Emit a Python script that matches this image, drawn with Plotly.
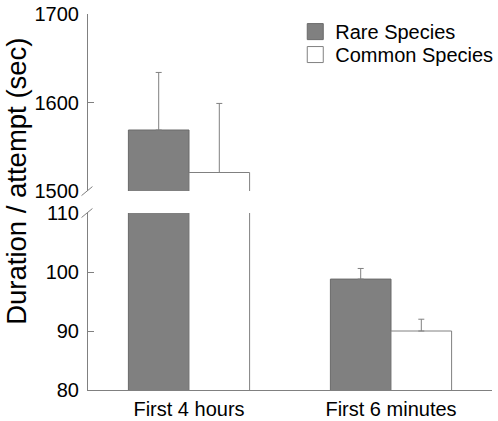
import plotly.graph_objects as go

categories = ["First 4 hours", "First 6 minutes"]
series_names = ["Rare Species", "Common Species"]
rare_values = [1569, 98.8]
rare_err = [65, 1.8]
common_values = [1521, 90.0]
common_err = [78, 2.0]
upper_ticks = [1500, 1600, 1700]
lower_ticks = [80, 90, 100, 110]

FONT = "Liberation Sans, Arial, Helvetica, sans-serif"
GRAY = "#808080"
RARE_FILL = "#808080"
RARE_EDGE = "#6a6a6a"
COMMON_FILL = "#ffffff"

fig = go.Figure()

for yax in ("y", "y2"):
    fig.add_trace(go.Bar(
        x=categories, y=rare_values, name=series_names[0],
        marker=dict(color=RARE_FILL, line=dict(color=RARE_EDGE, width=1)),
        error_y=dict(type="data", symmetric=False, array=rare_err,
                     arrayminus=[0, 0], color=GRAY, thickness=1, width=3),
        offset=-0.3, width=0.3, yaxis=yax, xaxis="x", showlegend=False,
    ))
    fig.add_trace(go.Bar(
        x=categories, y=common_values, name=series_names[1],
        marker=dict(color=COMMON_FILL, line=dict(color=GRAY, width=1)),
        error_y=dict(type="data", symmetric=False, array=common_err,
                     arrayminus=[0, 0], color=GRAY, thickness=1, width=3),
        offset=0.0, width=0.3, yaxis=yax, xaxis="x", showlegend=False,
    ))

# legend entries (square swatches)
fig.add_trace(go.Scatter(
    x=[None], y=[None], mode="markers", name=series_names[0],
    marker=dict(symbol="square", size=16, color=RARE_FILL,
                line=dict(color=RARE_EDGE, width=1)),
    legend="legend", showlegend=True,
))
fig.add_trace(go.Scatter(
    x=[None], y=[None], mode="markers", name=series_names[1],
    marker=dict(symbol="square", size=16, color=COMMON_FILL,
                line=dict(color=GRAY, width=1)),
    legend="legend2", showlegend=True,
))

lower_top = 0.4707
upper_bot = 0.529

axis_common = dict(
    showline=True, linecolor=GRAY, linewidth=1,
    ticks="inside", ticklen=6, tickcolor=GRAY,
    showgrid=False, zeroline=False, anchor="x",
    tickfont=dict(size=20), ticklabelstandoff=4,
)

legend_common = dict(
    xanchor="left", yanchor="top", bgcolor="rgba(0,0,0,0)",
    font=dict(size=20), itemsizing="trace", borderwidth=0,
)

fig.update_layout(
    width=498, height=421,
    margin=dict(l=88, r=6, t=14, b=31, autoexpand=False),
    paper_bgcolor="white", plot_bgcolor="white",
    font=dict(family=FONT, size=20, color="black"),
    barmode="overlay",
    xaxis=dict(
        range=[-0.5, 1.5], showline=True, linecolor=GRAY, linewidth=1,
        ticks="", showgrid=False, zeroline=False,
        tickfont=dict(size=20), anchor="y", ticklabelstandoff=1,
    ),
    yaxis=dict(domain=[0, lower_top], range=[80, 110],
               tickvals=lower_ticks, **axis_common),
    yaxis2=dict(domain=[upper_bot, 1.0], range=[1500, 1700],
                tickvals=upper_ticks, **axis_common),
    legend=dict(x=0.513, y=1.005, **legend_common),
    legend2=dict(x=0.513, y=0.944, **legend_common),
)

# Axis break marks
for yc in (upper_bot, lower_top):
    fig.add_shape(type="line", xref="paper", yref="paper",
                  x0=-0.016, x1=0.011, y0=yc - 0.012, y1=yc + 0.012,
                  line=dict(color=GRAY, width=1))

fig.add_annotation(
    text="Duration / attempt (sec)", textangle=-90,
    xref="paper", yref="paper", x=-0.176, y=0.556,
    xanchor="center", yanchor="middle", showarrow=False,
    font=dict(family=FONT, size=27.5, color="black"),
    borderpad=0,
)

fig.write_html(
    "out.html",
    config={"displayModeBar": False},
    post_script="document.body.style.margin='0';document.body.style.overflow='hidden';",
)
